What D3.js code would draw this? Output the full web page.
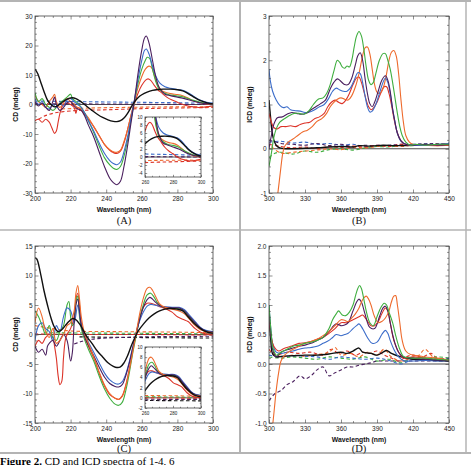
<!DOCTYPE html>
<html><head><meta charset="utf-8">
<script src="https://cdnjs.cloudflare.com/ajax/libs/d3/7.8.5/d3.min.js"></script>
<style>body{margin:0;background:#fff;overflow:hidden}</style>
</head><body>
<script>
// ---------- colours ----------
const colors = {black:"#111111", purple:"#4a1f5e", blue:"#3b6cc9", green:"#3fae3f", red:"#dc3328", orange:"#ee6a2c"};

// ---------- Panel A (CD, 200-300 nm) ----------
const A_black = [[200,12],[201.5,10.5],[203,8],[205,4.5],[207,1.5],[209,0],[211,-0.8],[213,-0.3],[215,0.6],[217,1.5],[219,2.1],[221,2.3],[223,2.0],[225,1.3],[227,0.4],[229,-0.6],[232,-2],[235,-3.3],[238,-4.4],[241,-5.2],[244,-5.7],[246,-5.8],[248,-5.5],[250,-4.6],[252,-3],[254,-0.9],[256,1],[258,2.4],[260,3.3],[263,4.2],[266,4.8],[269,5.1],[272,5.2],[276,5.2],[280,5.0],[283,4.6],[286,3.7],[289,2.6],[292,1.6],[295,0.9],[298,0.4],[300,0.3]];
const A_purple = [[200,1],[202,-0.5],[204,0.5],[206,-1],[208,-2],[210,1],[211,2.5],[212,0],[214,-2],[216,-1],[218,0.5],[220,1],[222,-0.5],[224,-1.5],[226,-2],[228,-4],[230,-7],[233,-11],[236,-16],[239,-21],[242,-25],[244,-26.5],[246,-27.2],[248,-26],[250,-21],[252,-14],[254,-6],[256,2],[258,11],[260,18.5],[261.5,22.5],[262.5,23.2],[264,21],[266,15],[268,9],[270,5.5],[273,3.5],[276,3],[280,2.5],[284,2],[288,1.3],[292,0.7],[296,0.3],[300,0.1]];
const A_blue = [[200,2],[202,0],[204,1],[206,-1],[208,-1.5],[210,0],[212,-1],[214,0.5],[216,-0.5],[218,1.5],[220,2],[222,1],[224,0],[226,-1],[228,-3],[230,-5.5],[233,-9],[236,-13],[239,-16.5],[242,-19],[244,-20],[246,-20.4],[248,-19.5],[250,-16],[252,-11],[254,-4.5],[256,2],[258,9],[260,15],[261.5,18.3],[262.5,18.8],[264,17.2],[266,13],[268,9.5],[270,7.3],[273,6],[276,5.5],[280,5.1],[283,4.8],[286,4],[289,2.8],[292,1.7],[295,1],[298,0.6],[300,0.5]];
const A_green = [[200,4],[202,1],[204,2],[206,0],[208,-1],[210,-2],[212,-1],[214,0.5],[216,1.5],[218,2.5],[220,3.5],[221,2],[222,1.5],[224,0.5],[226,-1],[228,-3],[230,-5.5],[233,-9.5],[236,-14],[239,-18],[242,-20.5],[244,-21.6],[246,-22],[248,-21],[250,-17.5],[252,-12],[254,-5],[256,1.5],[258,7.5],[260,12],[262,15],[263,16],[264.5,15.5],[266,12],[268,7.5],[270,5],[273,3.8],[276,3.2],[280,2.9],[283,2.6],[286,2],[289,1.4],[292,0.9],[296,0.4],[300,0.2]];
const A_orange = [[200,3],[202,1],[204,0],[206,-1],[208,1],[210,2.5],[211,3.5],[212,1],[214,-1],[216,0.5],[218,2],[220,1],[222,0],[224,-1],[226,-1.5],[228,-3],[230,-4.5],[233,-7.5],[236,-10.5],[239,-13.5],[242,-15.3],[244,-16],[246,-16.2],[248,-15.5],[250,-12.5],[252,-8.5],[254,-3.5],[256,1.5],[258,6],[260,9.5],[262,12],[264,13],[265.5,12.5],[267,10],[269,6.5],[271,4.8],[274,4],[277,3.6],[280,3.4],[283,3],[286,2.2],[289,1.3],[292,0.7],[296,0.2],[300,0]];
const A_red = [[200,-5.5],[202,-5],[204,-6],[206,-5],[208,-6],[209.5,-8],[211,-9.8],[212,-9],[213,-6],[214,-3],[215,-1],[216,0],[218,0.5],[220,0],[222,-1],[223,-3],[224,-1],[226,-2],[228,-3.5],[230,-5],[233,-7.5],[236,-10.5],[239,-13.5],[242,-15.5],[244,-16.3],[246,-16.6],[248,-15.8],[250,-13],[252,-8.5],[254,-3.5],[256,0.5],[258,4],[260,6.5],[262,8.2],[263.5,8.7],[265,8.2],[267,6.5],[269,5],[271,4],[274,2.5],[277,1.5],[280,0.8],[283,0],[286,-0.5],[289,-0.8],[292,-1],[295,-0.9],[298,-0.7],[300,-0.5]];
const A_blueDash = [[200,1.2],[220,1.0],[250,0.8],[280,0.6],[300,0.4]];
const A_purpleDash = [[200,0.3],[230,0.2],[260,0.1],[300,0.0]];
const A_redDash = [[202,-5],[205,-4],[210,-3],[215,-2.5],[225,-2],[240,-1.8],[260,-1.4],[280,-1.2],[300,-1]];
const A_orangeDash = [[215,-1.5],[230,-1.2],[260,-0.9],[280,-0.8],[300,-0.8]];

// ---------- Panel B (ICD, 300-450 nm) ----------
const B_black = [[300,1.1],[301,0.8],[302.5,0.4],[304,0.2],[306,0.08],[309,0.02],[315,0.0],[330,0.01],[345,0.03],[360,0.05],[370,0.04],[375,0.07],[385,0.06],[395,0.08],[405,0.07],[420,0.08],[435,0.08],[450,0.08]];
const B_purple = [[300,0.0],[302,0.3],[304,0.55],[307,0.7],[311,0.72],[315,0.78],[319,0.82],[323,0.8],[327,0.78],[331,0.8],[335,0.88],[339,0.95],[343,1.02],[347,1.1],[351,1.35],[354,1.5],[357,1.58],[360,1.52],[363,1.45],[366,1.45],[369,1.6],[372,1.9],[374,2.1],[376,2.17],[378,2.0],[380,1.6],[382,1.25],[384,1.02],[386,0.95],[388,1.05],[391,1.3],[394,1.55],[397,1.65],[399,1.55],[401,1.3],[403,0.9],[405,0.6],[407,0.35],[410,0.18],[414,0.1],[420,0.08],[430,0.1],[440,0.08],[450,0.1]];
const B_blue = [[300,1.8],[301,1.55],[303,1.3],[306,1.1],[309,0.98],[312,0.93],[315,0.95],[318,0.88],[322,0.86],[326,0.85],[330,0.82],[334,0.83],[338,0.88],[342,0.95],[346,1.0],[350,1.15],[353,1.3],[356,1.37],[359,1.33],[362,1.3],[365,1.3],[368,1.38],[371,1.55],[374,1.72],[376,1.7],[378,1.5],[380,1.2],[382,0.95],[384,0.83],[386,0.85],[389,1.0],[392,1.25],[395,1.5],[397,1.6],[399,1.5],[401,1.25],[403,0.9],[405,0.6],[407,0.35],[410,0.17],[414,0.1],[420,0.08],[430,0.08],[440,0.1],[450,0.12]];
const B_green = [[300,-0.4],[302,-0.1],[304,0.25],[306,0.45],[309,0.6],[313,0.68],[317,0.75],[321,0.8],[325,0.8],[329,0.78],[333,0.85],[337,1.0],[341,1.12],[345,1.15],[348,1.25],[351,1.45],[354,1.75],[357,2.0],[359,1.95],[361,1.85],[363,1.82],[365,1.87],[367,1.85],[369,2.0],[371,2.3],[373,2.55],[375,2.65],[377,2.55],[379,2.25],[381,1.85],[383,1.55],[385,1.45],[387,1.5],[389,1.7],[392,2.0],[395,2.15],[397,2.15],[399,2.0],[401,1.8],[403,1.5],[405,1.15],[407,0.8],[409,0.5],[411,0.3],[414,0.15],[418,0.08],[422,0.1],[430,0.08],[440,0.1],[450,0.1]];
const B_red = [[300,0.8],[302,0.6],[304,0.48],[307,0.45],[310,0.5],[314,0.5],[318,0.52],[322,0.5],[326,0.55],[330,0.58],[334,0.6],[338,0.68],[342,0.72],[346,0.8],[349,0.95],[352,1.05],[355,1.1],[358,1.05],[361,1.02],[364,1.1],[367,1.25],[370,1.45],[373,1.6],[375,1.62],[377,1.5],[379,1.3],[381,1.1],[383,0.95],[385,0.88],[387,0.92],[390,1.05],[393,1.25],[396,1.4],[398,1.4],[400,1.25],[402,1.0],[404,0.7],[406,0.45],[409,0.22],[412,0.12],[418,0.08],[425,0.1],[435,0.08],[450,0.12]];
const B_orange = [[306.5,-1.2],[308.5,-0.75],[310,-0.4],[311.5,-0.1],[313,0.05],[316,0.15],[320,0.22],[324,0.3],[328,0.38],[332,0.42],[336,0.5],[340,0.62],[344,0.68],[348,0.8],[351,0.95],[354,1.05],[357,1.12],[360,1.15],[363,1.12],[366,1.1],[369,1.2],[372,1.4],[375,1.7],[378,2.1],[380,2.28],[382,2.3],[384,2.15],[386,1.8],[388,1.45],[390,1.28],[392,1.25],[394,1.3],[396,1.45],[398,1.7],[400,2.0],[402,2.18],[404,2.22],[406,2.1],[408,1.7],[410,1.1],[412,0.6],[414,0.3],[417,0.15],[420,0.1],[430,0.08],[440,0.07],[450,0.08]];
const B_blueDash = [[300,0.15],[310,0.17],[320,0.13],[330,0.15],[340,0.1],[350,0.12],[360,0.08],[370,0.1],[380,0.05],[390,0.08],[400,0.06],[410,0.08],[420,0.1],[430,0.12],[440,0.1],[450,0.13]];
const B_purpleDash = [[300,0.2],[310,0.12],[320,0.1],[330,0.08],[340,0.12],[350,0.07],[360,0.1],[370,0.05],[380,0.08],[390,0.06],[400,0.08],[410,0.1],[420,0.08],[430,0.1],[440,0.12],[450,0.1]];
const B_greenDash = [[300,-0.2],[305,-0.1],[310,-0.08],[320,-0.12],[330,-0.05],[340,-0.08],[350,-0.02],[360,0.0],[370,-0.03],[380,0.02],[390,0.05],[400,0.04],[410,0.08],[420,0.07],[430,0.1],[440,0.08],[450,0.1]];
const B_orangeDash = [[302,0.05],[310,-0.1],[320,-0.08],[330,-0.05],[340,-0.03],[350,0.0],[360,-0.02],[370,0.03],[380,0.02],[390,0.05],[400,0.07],[410,0.05],[420,0.08],[430,0.1],[440,0.07],[450,0.1]];
const B_redDash = [[300,0.1],[310,0.05],[320,0.02],[330,0.04],[340,0.0],[350,0.05],[360,0.03],[370,0.06],[380,0.04],[390,0.08],[400,0.05],[410,0.1],[420,0.08],[430,0.09],[440,0.1],[450,0.11]];

// ---------- Panel C (CD, 200-300 nm) ----------
const C_black = [[200,13],[201,12.8],[203,10.5],[205,7.5],[207,5],[209,2.8],[211,1.2],[213,0.5],[215,0.8],[217,1.5],[219,2.2],[221,2.7],[223,2.5],[225,1.8],[227,0.8],[229,-0.3],[232,-1.5],[235,-2.8],[238,-3.8],[241,-4.8],[244,-5.4],[246,-5.6],[248,-5.5],[250,-4.8],[252,-3.6],[254,-2],[256,-0.6],[258,0.6],[261,1.8],[264,2.8],[267,3.5],[270,4],[273,4.3],[276,4.4],[280,4.3],[283,4],[286,3],[289,2],[292,1.2],[295,0.6],[298,0.3],[300,0.2]];
const C_purple = [[200,-2],[202,-3],[204,-2.5],[206,-3.5],[207,-2],[208,-1.5],[210,-1],[212,-2],[214,-1],[216,0],[218,-1],[220,-4.5],[221,-3],[222,2],[223,5],[224,6],[225,4],[226,1.5],[228,-0.5],[230,-1.8],[233,-3.6],[236,-5.5],[239,-7.2],[242,-8.3],[245,-8.8],[247,-8.9],[249,-8.5],[251,-7],[253,-4.8],[255,-2.2],[257,0.3],[259,2.8],[261,4.7],[263,5.9],[264.5,6.3],[266,6.0],[268,5.4],[270,4.9],[273,4.6],[277,4.5],[281,4.5],[284,4],[287,3],[290,2],[293,1.1],[296,0.6],[300,0.4]];
const C_blue = [[200,-1],[202,1.5],[204,2],[206,1],[208,0.5],[210,-1],[212,1.5],[214,0.5],[216,3],[218,4.5],[220,4],[222,2],[224,5],[225,3.5],[226,1.8],[228,0],[230,-1.3],[233,-3],[236,-4.8],[239,-6.5],[242,-7.7],[245,-8.3],[247,-8.4],[249,-8],[251,-6.7],[253,-4.6],[255,-2],[257,0.5],[259,2.5],[261,3.9],[263,4.8],[265,5.1],[267,5],[270,4.8],[273,4.7],[277,4.6],[281,4.6],[284,4.2],[287,3.2],[290,2.2],[293,1.2],[296,0.7],[300,0.5]];
const C_green = [[200,4],[202,3],[204,1.5],[206,0],[208,1.5],[210,-0.5],[212,-1],[214,0.5],[216,1.5],[218,5],[219,5.6],[220,3],[221,1.5],[222,2],[223,5.5],[224,6.5],[225,3],[226,1],[228,-1],[230,-2.5],[233,-4.5],[236,-7],[239,-9.2],[242,-10.8],[245,-11.8],[247,-12],[249,-11.5],[251,-9.5],[253,-6.5],[255,-3],[257,0],[259,3],[261,5.2],[263,6.7],[265,7],[267,6.3],[269,5.3],[272,4.6],[276,4.5],[280,4.4],[283,4.2],[286,3.2],[289,2.2],[292,1.3],[295,0.7],[300,0.4]];
const C_orange = [[200,2],[202,4.5],[204,3],[206,0.5],[208,-0.5],[210,1],[212,-1.5],[214,-1],[216,0],[218,1.5],[220,2],[222,4],[223,7],[224,8.3],[225,6],[226,3],[228,0],[230,-1.5],[233,-3.8],[236,-6.3],[239,-8.5],[242,-10],[245,-10.8],[247,-11],[249,-10.5],[251,-8.7],[253,-6],[255,-2.8],[257,0.5],[259,3.8],[261,6.3],[263,7.8],[264.5,8],[266,7.5],[268,6.3],[270,5.2],[273,4.6],[277,4.3],[281,4.0],[284,3.5],[287,2.5],[290,1.5],[293,0.8],[296,0.5],[300,0.3]];
const C_red = [[200,-2],[202,-1],[204,-1.5],[206,-0.5],[208,0],[210,-0.5],[211,-2],[212,-4],[213,-7],[214,-8.5],[215,-8],[216,-4],[217,-1],[218,0],[220,1],[222,3],[223,6],[224,7],[225,5],[226,2],[228,-0.5],[230,-2],[233,-4],[236,-6.5],[239,-8.7],[242,-10.2],[245,-10.8],[247,-11],[249,-10.4],[251,-8.6],[253,-5.8],[255,-2.5],[257,0.5],[259,3],[261,4.7],[263,5.3],[265,5.3],[268,5],[271,4.6],[274,4.3],[277,3.8],[280,3],[283,2.6],[286,2.2],[288,1.6],[290,1],[293,0.4],[296,0.1],[300,0]];
const C_orangeDash = [[200,1.5],[210,1],[220,0.6],[240,0.5],[260,0.45],[280,0.4],[300,0.3]];
const C_greenDash = [[205,0.3],[230,0.25],[260,0.2],[300,0.1]];
const C_redDash = [[200,0.1],[230,0.0],[260,0.0],[300,-0.1]];
const C_blackDash = [[225,-0.4],[250,-0.5],[275,-0.55],[300,-0.6]];
const C_purpleDash = [[222,-1.6],[225,-1.3],[228,-1.0],[232,-0.8],[240,-0.6],[260,-0.4],[300,-0.3]];

// ---------- Panel D (ICD, 300-450 nm) ----------
const D_black = [[300,0.8],[301.5,0.4],[303,0.17],[306,0.12],[310,0.13],[320,0.14],[330,0.15],[340,0.15],[350,0.17],[360,0.2],[365,0.18],[370,0.22],[375,0.27],[378,0.2],[385,0.18],[390,0.15],[395,0.2],[398,0.23],[402,0.18],[410,0.12],[420,0.08],[430,0.07],[440,0.06],[450,0.05]];
const D_purple = [[300,0.9],[301.5,0.5],[303,0.25],[306,0.12],[310,0.2],[315,0.24],[320,0.27],[325,0.3],[330,0.32],[335,0.35],[340,0.4],[345,0.45],[350,0.55],[356,0.68],[360,0.65],[363,0.66],[366,0.7],[370,0.9],[373,1.05],[375,1.1],[377,1.05],[380,0.85],[384,0.62],[388,0.6],[392,0.8],[395,0.95],[397,0.98],[399,0.9],[401,0.7],[403,0.5],[405,0.35],[408,0.2],[412,0.12],[420,0.1],[430,0.08],[440,0.07],[450,0.06]];
const D_blue = [[300,1.0],[301.5,0.6],[303,0.35],[306,0.2],[310,0.18],[315,0.2],[320,0.22],[325,0.25],[330,0.27],[335,0.28],[340,0.3],[345,0.35],[350,0.4],[353,0.45],[356,0.5],[360,0.48],[363,0.5],[366,0.52],[370,0.6],[373,0.65],[375,0.68],[378,0.6],[382,0.45],[386,0.35],[390,0.37],[394,0.5],[397,0.57],[399,0.52],[401,0.4],[404,0.25],[408,0.12],[412,0.06],[420,0.05],[430,0.06],[440,0.05],[450,0.06]];
const D_green = [[300,1.0],[301.5,0.6],[303,0.3],[306,0.15],[310,0.2],[315,0.25],[320,0.3],[325,0.32],[330,0.35],[335,0.37],[340,0.4],[345,0.45],[350,0.6],[353,0.75],[356,0.85],[358,0.9],[361,0.83],[364,0.82],[367,0.88],[370,1.0],[372,1.15],[374,1.28],[375.5,1.33],[377,1.28],[379,1.1],[381,0.9],[384,0.7],[387,0.65],[390,0.8],[393,0.95],[396,1.03],[398,1.0],[400,0.88],[403,0.7],[406,0.45],[409,0.25],[412,0.13],[420,0.1],[430,0.1],[440,0.08],[450,0.07]];
const D_red = [[300,0.8],[302,0.45],[304,0.3],[308,0.22],[312,0.26],[318,0.3],[325,0.35],[330,0.36],[335,0.38],[340,0.42],[345,0.45],[350,0.52],[355,0.6],[360,0.7],[365,0.7],[370,0.75],[375,0.8],[378,0.83],[381,0.76],[385,0.65],[388,0.65],[391,0.72],[394,0.85],[397,0.95],[399,0.9],[401,0.7],[404,0.4],[408,0.2],[412,0.1],[420,0.12],[430,0.1],[440,0.08],[450,0.07]];
const D_orange = [[303,-1.05],[304.5,-0.75],[306,-0.45],[308,-0.15],[310,0.05],[313,0.15],[316,0.2],[320,0.25],[325,0.3],[330,0.35],[335,0.38],[340,0.42],[345,0.48],[350,0.55],[355,0.65],[360,0.75],[363,0.74],[366,0.72],[369,0.78],[372,0.85],[375,0.95],[377,1.05],[379,1.12],[381,1.15],[383,1.1],[385,1.0],[388,0.8],[391,0.7],[394,0.72],[397,0.78],[400,0.9],[402,1.05],[404,1.15],[405.5,1.16],[407,1.0],[409,0.7],[411,0.4],[414,0.22],[418,0.16],[425,0.14],[430,0.12],[440,0.1],[450,0.07]];
const D_purpleDash = [[300,-0.62],[305,-0.5],[310,-0.45],[315,-0.35],[320,-0.3],[326,-0.2],[330,-0.25],[335,-0.2],[340,-0.1],[345,-0.05],[350,-0.2],[355,-0.15],[360,-0.1],[365,-0.05],[370,-0.05],[375,-0.02],[380,0.0],[385,0.02],[390,0.05],[395,0.05],[400,0.05],[410,0.05],[420,0.05],[435,0.05],[450,0.05]];
const D_redDash = [[300,0.25],[305,0.15],[315,0.2],[325,0.18],[335,0.2],[345,0.15],[352,0.25],[358,0.18],[365,0.22],[372,0.15],[378,0.2],[384,0.18],[390,0.22],[396,0.15],[402,0.1],[408,0.05],[414,0.12],[420,0.15],[428,0.12],[435,0.18],[440,0.1],[450,0.08]];
const D_orangeDash = [[303,0.2],[310,0.12],[320,0.15],[330,0.13],[340,0.16],[350,0.2],[355,0.28],[360,0.15],[368,0.18],[375,0.12],[382,0.2],[390,0.15],[396,0.25],[402,0.12],[410,0.05],[418,0.1],[425,0.15],[430,0.25],[438,0.1],[450,0.1]];
const D_greenDash = [[300,0.12],[310,0.1],[320,0.12],[330,0.1],[340,0.08],[350,0.12],[360,0.1],[370,0.08],[380,0.12],[390,0.05],[400,0.08],[410,0.02],[420,0.1],[430,0.08],[440,0.12],[450,0.1]];
const D_blueDash = [[300,0.15],[310,0.12],[320,0.14],[330,0.13],[340,0.12],[350,0.08],[360,0.12],[370,0.1],[380,0.08],[390,0.1],[400,0.06],[410,0.0],[420,0.08],[430,0.1],[440,0.08],[450,0.1]];

// ---------- tick labels ----------
const xTicksCD = [200,220,240,260,280,300];
const xTicksICD = [300,330,360,390,420,450];
const yTicksA = [-30,-20,-10,0,10,20,30];
const yTicksB = [-1,0,1,2,3];
const yTicksC = [-15,-10,-5,0,5,10,15];
const yTicksD = [-1.0,-0.5,0.0,0.5,1.0,1.5,2.0];
const insetXTicks = [260,280,300];
const insetYTicksA = [-4,-2,0,2,4,6,8,10];
const insetYTicksC = [-2,0,2,4,6,8,10];

const W = 471, H = 465;
const svg = d3.select("body").append("svg").attr("width", W).attr("height", H)
  .style("font-family", "Liberation Sans, Arial, sans-serif");

// frame lines of the figure table
const frameCol = "#b4b4b4";
svg.append("line").attr("x1",0).attr("x2",W).attr("y1",1).attr("y2",1).attr("stroke",frameCol).attr("stroke-width",2);
svg.append("line").attr("x1",240).attr("x2",240).attr("y1",0).attr("y2",453).attr("stroke",frameCol).attr("stroke-width",2);
svg.append("line").attr("x1",466).attr("x2",466).attr("y1",0).attr("y2",453).attr("stroke",frameCol).attr("stroke-width",1.5);
svg.append("line").attr("x1",0).attr("x2",W).attr("y1",230).attr("y2",230).attr("stroke",frameCol).attr("stroke-width",1.5);
svg.append("line").attr("x1",0).attr("x2",W).attr("y1",453).attr("y2",453).attr("stroke",frameCol).attr("stroke-width",2);

const cap = svg.append("text").attr("x",0).attr("y",464.5).style("font-family","Liberation Serif, Times New Roman, serif").style("font-size","11px").attr("fill","#000");
cap.append("tspan").style("font-weight","bold").text("Figure 2.");
cap.append("tspan").text(" CD and ICD spectra of 1-4, 6");

let clipId = 0;
function frameAxes(g, x, y, box, major, minorX, minorY, yMajor, fmt, fs, tl) {
  const {l, r, t, b} = box;
  const mk = (axis, tr) => g.append("g").attr("transform", tr).call(axis);
  const style = sel => {
    sel.select(".domain").remove();
    sel.selectAll("line").attr("stroke", "#444").attr("stroke-width", 0.6);
    sel.selectAll("text").attr("fill", "#222").style("font-size", fs + "px");
  };
  // minor ticks
  mk(d3.axisBottom(x).tickValues(minorX).tickSize(-tl*0.55).tickFormat(""), `translate(0,${b})`).call(style);
  mk(d3.axisTop(x).tickValues(minorX).tickSize(-tl*0.55).tickFormat(""), `translate(0,${t})`).call(style);
  mk(d3.axisLeft(y).tickValues(minorY).tickSize(-tl*0.55).tickFormat(""), `translate(${l},0)`).call(style);
  mk(d3.axisRight(y).tickValues(minorY).tickSize(-tl*0.55).tickFormat(""), `translate(${r},0)`).call(style);
  // major
  mk(d3.axisBottom(x).tickValues(major).tickSize(-tl).tickPadding(3.6).tickFormat(d => String(d)), `translate(0,${b})`).call(style);
  mk(d3.axisTop(x).tickValues(major).tickSize(-tl).tickFormat(""), `translate(0,${t})`).call(style);
  mk(d3.axisLeft(y).tickValues(yMajor).tickSize(-tl).tickPadding(2.5).tickFormat(fmt), `translate(${l},0)`).call(style);
  mk(d3.axisRight(y).tickValues(yMajor).tickSize(-tl).tickFormat(""), `translate(${r},0)`).call(style);
  g.append("rect").attr("x", l).attr("y", t).attr("width", r - l).attr("height", b - t)
    .attr("fill", "none").attr("stroke", "#444").attr("stroke-width", 0.8);
}

function drawSeries(g, x, y, box, series) {
  const id = "clip" + (clipId++);
  g.append("clipPath").attr("id", id).append("rect")
    .attr("x", box.l).attr("y", box.t).attr("width", box.r - box.l).attr("height", box.b - box.t);
  const cg = g.append("g").attr("clip-path", `url(#${id})`);
  const line = d3.line().x(d => x(d[0])).y(d => y(d[1])).curve(d3.curveCatmullRom.alpha(0.5));
  // zero line
  cg.append("line").attr("x1", box.l).attr("x2", box.r).attr("y1", y(0)).attr("y2", y(0))
    .attr("stroke", "#222").attr("stroke-width", 0.8);
  series.forEach(s => {
    cg.append("path").datum(s.data).attr("d", line).attr("fill", "none")
      .attr("stroke", colors[s.c]).attr("stroke-width", s.c === "black" && !s.dash ? 1.4 : 1.1)
      .attr("stroke-dasharray", s.dash ? "3.5,2.5" : null);
  });
}

function range(a, b, step, skip) {
  const out = [];
  for (let v = a; v <= b + 1e-9; v += step) {
    const r = Math.round(v * 1000) / 1000;
    if (!skip || !skip.some(s => Math.abs(s - r) < 1e-6)) out.push(r);
  }
  return out;
}

function panel(cfg) {
  const g = svg.append("g");
  const box = cfg.box;
  const x = d3.scaleLinear().domain(cfg.xd).range([box.l, box.r]);
  const y = d3.scaleLinear().domain(cfg.yd).range([box.b, box.t]);
  drawSeries(g, x, y, box, cfg.series);
  frameAxes(g, x, y, box, cfg.xt, range(cfg.xd[0], cfg.xd[1], cfg.xm, cfg.xt),
    range(cfg.yd[0], cfg.yd[1], cfg.ym, cfg.yt), cfg.yt, cfg.fmt, 6.5, 3.5);
  // axis titles
  g.append("text").attr("x", (box.l + box.r) / 2).attr("y", box.b + 19).attr("text-anchor", "middle")
    .style("font-size", "6.8px").style("font-weight", "bold").attr("fill", "#111").text("Wavelength (nm)");
  g.append("text").attr("transform", `translate(${box.l - 17},${(box.t + box.b) / 2}) rotate(-90)`)
    .attr("text-anchor", "middle").style("font-size", "6.8px").style("font-weight", "bold").attr("fill", "#111").text(cfg.ytitle);
  g.append("text").attr("x", (box.l + box.r) / 2).attr("y", box.b + cfg.labOff).attr("text-anchor", "middle")
    .style("font-family", "Liberation Serif, Times New Roman, serif").style("font-size", "10.5px").attr("fill", "#111").text(cfg.label);
  if (cfg.inset) {
    const ib = cfg.inset.box;
    g.append("rect").attr("x", ib.l).attr("y", ib.t).attr("width", ib.r - ib.l).attr("height", ib.b - ib.t).attr("fill", "#fff");
    const ix = d3.scaleLinear().domain(cfg.inset.xd).range([ib.l, ib.r]);
    const iy = d3.scaleLinear().domain(cfg.inset.yd).range([ib.b, ib.t]);
    drawSeries(g, ix, iy, ib, cfg.series);
    frameAxes(g, ix, iy, ib, insetXTicks, range(260, 300, 5, insetXTicks),
      range(cfg.inset.yd[0], cfg.inset.yd[1], 1, cfg.inset.yt), cfg.inset.yt, d => String(d), 4.5, 2.2);
  }
}

const S = (data, c, dash) => ({data, c, dash});

panel({
  box: {l: 35, r: 213, t: 16, b: 193}, xd: [200, 300], yd: [-30, 30], labOff: 31,
  xt: xTicksCD, yt: yTicksA, xm: 5, ym: 2, fmt: d => String(d), ytitle: "CD (mdeg)", label: "(A)",
  series: [S(A_blueDash,"blue",1), S(A_purpleDash,"purple",1), S(A_redDash,"red",1), S(A_orangeDash,"orange",1),
    S(A_red,"red"), S(A_orange,"orange"), S(A_green,"green"), S(A_blue,"blue"), S(A_purple,"purple"), S(A_black,"black")],
  inset: {box: {l: 145, r: 201, t: 117, b: 177}, xd: [260, 300], yd: [-5, 10], yt: insetYTicksA}
});
panel({
  box: {l: 269, r: 449, t: 16, b: 193}, xd: [300, 450], yd: [-1, 3], labOff: 31,
  xt: xTicksICD, yt: yTicksB, xm: 10, ym: 0.2, fmt: d => String(d), ytitle: "ICD (mdeg)", label: "(B)",
  series: [S(B_blueDash,"blue",1), S(B_purpleDash,"purple",1), S(B_greenDash,"green",1), S(B_orangeDash,"orange",1), S(B_redDash,"red",1),
    S(B_black,"black"), S(B_red,"red"), S(B_orange,"orange"), S(B_blue,"blue"), S(B_purple,"purple"), S(B_green,"green")]
});
panel({
  box: {l: 35, r: 213, t: 246, b: 423}, xd: [200, 300], yd: [-15, 15], labOff: 29,
  xt: xTicksCD, yt: yTicksC, xm: 5, ym: 1, fmt: d => String(d), ytitle: "CD (mdeg)", label: "(C)",
  series: [S(C_orangeDash,"orange",1), S(C_greenDash,"green",1), S(C_redDash,"red",1), S(C_blackDash,"black",1), S(C_purpleDash,"purple",1),
    S(C_red,"red"), S(C_green,"green"), S(C_blue,"blue"), S(C_purple,"purple"), S(C_orange,"orange"), S(C_black,"black")],
  inset: {box: {l: 145, r: 201, t: 347, b: 408}, xd: [260, 300], yd: [-2, 10], yt: insetYTicksC}
});
panel({
  box: {l: 269, r: 449, t: 246, b: 423}, xd: [300, 450], yd: [-1, 2], labOff: 29,
  xt: xTicksICD, yt: yTicksD, xm: 10, ym: 0.1, fmt: d => d.toFixed(1), ytitle: "ICD (mdeg)", label: "(D)",
  series: [S(D_purpleDash,"purple",1), S(D_redDash,"red",1), S(D_orangeDash,"orange",1), S(D_greenDash,"green",1), S(D_blueDash,"blue",1),
    S(D_black,"black"), S(D_blue,"blue"), S(D_red,"red"), S(D_purple,"purple"), S(D_orange,"orange"), S(D_green,"green")]
});
</script>
</body></html>
